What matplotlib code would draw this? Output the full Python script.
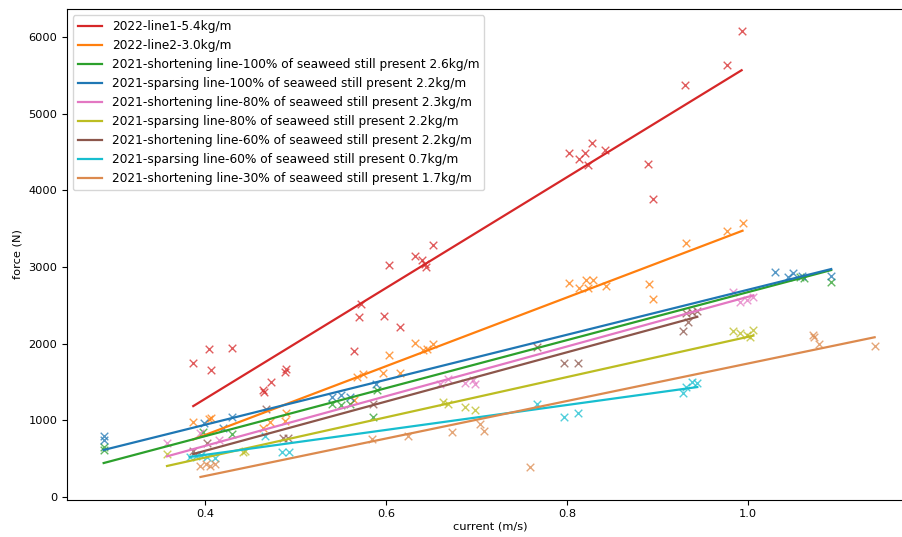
#!/usr/bin/env python3
# force vs current for the seaweed lines, with linear fits

import numpy as np
import matplotlib
matplotlib.use('Agg')
import matplotlib.pyplot as plt

labels = [
    '2022-line1-5.4kg/m',
    '2022-line2-3.0kg/m',
    '2021-shortening line-100% of seaweed still present 2.6kg/m',
    '2021-sparsing line-100% of seaweed still present 2.2kg/m',
    '2021-shortening line-80% of seaweed still present 2.3kg/m',
    '2021-sparsing line-80% of seaweed still present 2.2kg/m',
    '2021-shortening line-60% of seaweed still present 2.2kg/m',
    '2021-sparsing line-60% of seaweed still present 0.7kg/m',
    '2021-shortening line-30% of seaweed still present 1.7kg/m',
]

colors = ['#d62728', '#ff7f0e', '#2ca02c', '#1f77b4', '#e377c2',
          '#bcbd22', '#8c564b', '#17becf', '#dc8a4e']

# measured points (current m/s, force N)
x_line1 = [0.387, 0.404, 0.407, 0.430, 0.464, 0.465, 0.473, 0.488, 0.490, 0.565,
           0.570, 0.572, 0.598, 0.603, 0.615, 0.632, 0.640, 0.643, 0.644, 0.652,
           0.802, 0.813, 0.820, 0.823, 0.828, 0.842, 0.890, 0.895, 0.930, 0.977, 0.993]
y_line1 = [1747, 1930, 1656, 1943, 1395, 1369, 1500, 1630, 1669, 1904,
           2347, 2516, 2360, 3025, 2217, 3142, 3090, 3038, 2999, 3286,
           4485, 4407, 4485, 4329, 4615, 4524, 4342, 3885, 5372, 5632, 6076]

x_line2 = [0.387, 0.404, 0.407, 0.464, 0.472, 0.488, 0.490, 0.565, 0.568, 0.575,
           0.597, 0.603, 0.615, 0.632, 0.641, 0.645, 0.652, 0.802, 0.813, 0.821,
           0.823, 0.829, 0.843, 0.891, 0.895, 0.931, 0.977, 0.994]
y_line2 = [978, 1017, 1030, 900, 978, 991, 1095, 1265, 1565, 1604,
           1617, 1851, 1617, 2008, 1917, 1930, 1995, 2790, 2725, 2829,
           2725, 2829, 2751, 2777, 2582, 3312, 3468, 3572]

x_short100 = [0.288, 0.288, 0.398, 0.430, 0.540, 0.550, 0.560, 0.586, 0.590,
              1.057, 1.062, 1.092]
y_short100 = [652, 613, 847, 821, 1212, 1199, 1212, 1043, 1395,
              2868, 2855, 2803]

x_spars100 = [0.288, 0.288, 0.399, 0.420, 0.430, 0.540, 0.550, 0.560, 0.589,
              1.030, 1.044, 1.050, 1.060, 1.092]
y_spars100 = [795, 743, 965, 900, 1043, 1304, 1330, 1304, 1473,
              2934, 2868, 2920, 2881, 2881]

x_short80 = [0.358, 0.394, 0.416, 0.660, 0.669, 0.687, 0.696, 0.698,
             0.983, 0.991, 0.999, 1.006]
y_short80 = [704, 834, 743, 1473, 1538, 1486, 1525, 1473,
             2673, 2542, 2568, 2608]

x_spars80 = [0.358, 0.442, 0.444, 0.663, 0.669, 0.687, 0.698,
             0.983, 0.991, 0.999, 1.002, 1.006]
y_spars80 = [561, 587, 600, 1239, 1212, 1173, 1134,
             2164, 2138, 2112, 2086, 2177]

x_short60 = [0.387, 0.402, 0.467, 0.486, 0.492, 0.586, 0.767, 0.797, 0.812,
             0.928, 0.932, 0.934, 0.938, 0.944]
y_short60 = [600, 704, 1147, 769, 769, 1212, 1956, 1747, 1747,
             2164, 2399, 2282, 2412, 2425]

x_spars60 = [0.383, 0.390, 0.396, 0.402, 0.411, 0.466, 0.485, 0.493, 0.767,
             0.797, 0.812, 0.928, 0.932, 0.938, 0.944]
y_spars60 = [522, 535, 548, 522, 508, 795, 587, 587, 1212,
             1043, 1095, 1356, 1434, 1499, 1486]

x_short30 = [0.395, 0.401, 0.406, 0.411, 0.585, 0.624, 0.673, 0.704, 0.708,
             0.759, 1.072, 1.073, 1.078, 1.140]
y_short30 = [404, 430, 404, 430, 756, 795, 847, 952, 860,
             391, 2112, 2086, 1995, 1969]

# linear fit coefficients (slope, intercept)
fit_slope = [7229, 4486, 3131, 2935, 3241, 2624, 3213, 1626, 2446]
fit_intercept = [-1612, -986, -459, -232, -630, -535, -683, -101, -705]

xs = [x_line1, x_line2, x_short100, x_spars100, x_short80, x_spars80,
      x_short60, x_spars60, x_short30]
ys = [y_line1, y_line2, y_short100, y_spars100, y_short80, y_spars80,
      y_short60, y_spars60, y_short30]

plt.rcParams['font.size'] = 8.2

fig = plt.figure(figsize=(9.02, 5.37), dpi=100)
# the reference is cropped on the right, so the axes run past the figure edge
ax = fig.add_axes([0.0743, 0.0698, 0.938, 0.913])

for i in range(len(labels)):
    x = np.array(xs[i])
    y = np.array(ys[i])
    ax.scatter(x, y, marker='x', color=colors[i], s=30, linewidths=1.0, alpha=0.75)
    xf = np.array([x.min(), x.max()])
    ax.plot(xf, fit_slope[i] * xf + fit_intercept[i], color=colors[i],
            linewidth=1.6, label=labels[i])

ax.set_xlim(0.2475, 1.1825)
ax.set_ylim(-33, 6362)
ax.set_xticks([0.4, 0.6, 0.8, 1.0])
ax.set_yticks([0, 1000, 2000, 3000, 4000, 5000, 6000])
ax.set_xlabel('current (m/s)', labelpad=1.5)
ax.set_ylabel('force (N)')
ax.legend(loc='upper left', fontsize=8.7)

fig.savefig('out.png', dpi=100)
